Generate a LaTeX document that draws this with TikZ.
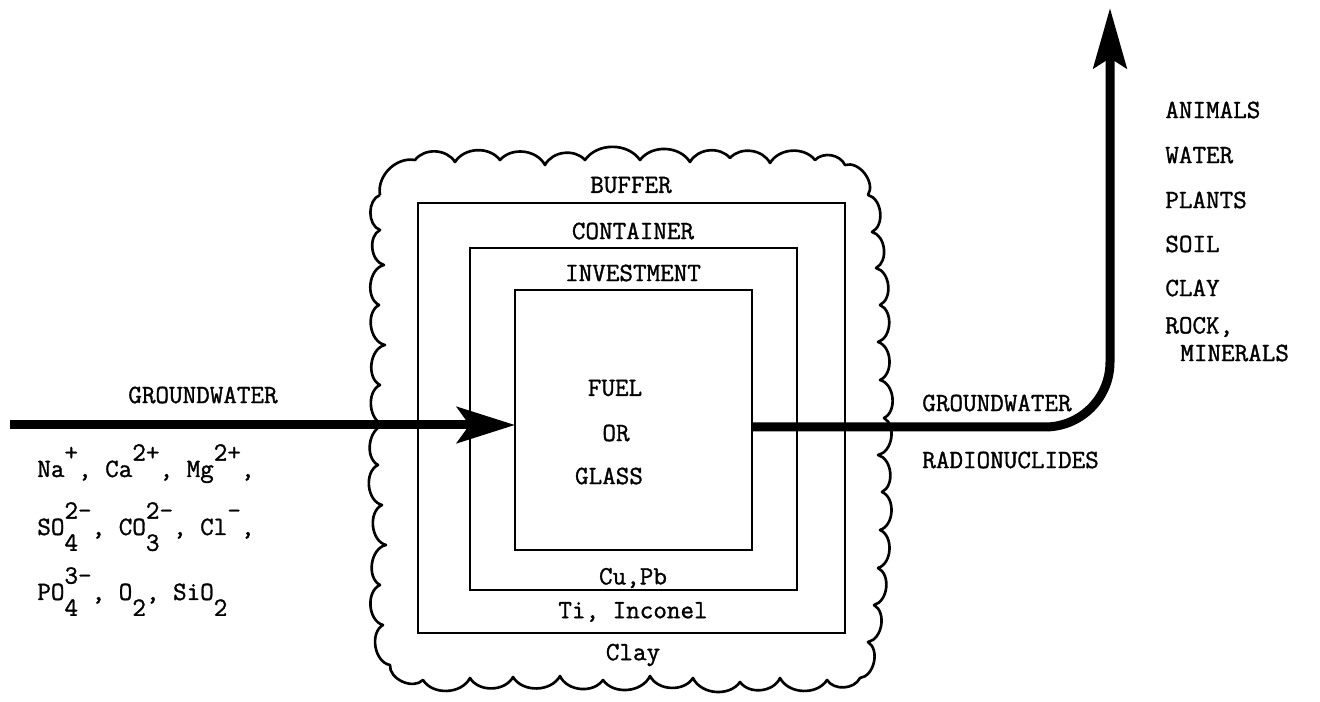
\documentclass[tikz,border=0pt]{standalone}
\usepackage{fontspec}
\usepackage{tikz}
\usetikzlibrary{arrows.meta,positioning}
\newfontfamily\typefont{Latin Modern Mono}[FakeBold=1.2]
\newcommand{\ionsub}[3]{#1\raisebox{-0.6em}{\makebox[0pt][l]{#2}}\raisebox{0.62em}{#3}}

\begin{document}
\begin{tikzpicture}[x=0.02cm, y=-0.02cm,
        lbl/.style={font=\typefont\fontsize{15}{18}\selectfont, inner sep=0pt},
        layer/.style={rectangle, draw, line width=1.6pt, inner sep=0pt, outer sep=0pt},
        flow/.style={line width=0.18cm},
        cloud/.style={line width=1.5pt, line join=round}
    ]
        \useasboundingbox (0,0) rectangle (1320,702);

        % Clay cloud
        \draw[cloud] (380,195)
            to[bend left=55] (415,160) to[bend left=55] (455,162) to[bend left=55] (500,160)
            to[bend left=55] (545,165) to[bend left=55] (585,160) to[bend left=55] (640,160)
            to[bend left=55] (690,162) to[bend left=55] (730,158) to[bend left=55] (770,163)
            to[bend left=55] (815,160) to[bend left=55] (845,165) to[bend left=70] (868,195)
            to[bend left=70] (872,232) to[bend left=70] (876,268) to[bend left=70] (880,305)
            to[bend left=70] (878,342) to[bend left=70] (880,380) to[bend left=70] (884,418)
            to[bend left=70] (878,455) to[bend left=70] (882,492) to[bend left=70] (880,530)
            to[bend left=70] (878,568) to[bend left=70] (874,605) to[bend left=70] (868,642)
            to[bend left=70] (860,678)
            to[bend left=60] (827,680) to[bend left=60] (780,678) to[bend left=60] (740,682)
            to[bend left=60] (693,678) to[bend left=60] (650,676) to[bend left=60] (603,680)
            to[bend left=60] (560,676) to[bend left=60] (513,677) to[bend left=60] (470,678)
            to[bend left=60] (423,680) to[bend left=70] (390,665)
            to[bend left=70] (383,625) to[bend left=70] (380,585) to[bend left=70] (386,545)
            to[bend left=70] (382,505) to[bend left=70] (378,465) to[bend left=70] (384,425)
            to[bend left=70] (380,385) to[bend left=70] (385,345) to[bend left=70] (379,305)
            to[bend left=70] (384,265) to[bend left=70] (380,230) to[bend left=70] (380,195);

        % Layers
        \node[layer, minimum width=8.54cm, minimum height=8.6cm] (buffer) at (631.5,418) {};
        \node[layer, minimum width=6.54cm, minimum height=6.84cm] (container) at (633.5,419) {};
        \node[layer, minimum width=4.74cm, minimum height=5.2cm] (fuel) at (633.5,420) {};

        \node[lbl] (bufferlbl) at (631,185) {BUFFER};
        \node[lbl] (containerlbl) at (633,231) {CONTAINER};
        \node[lbl] (investlbl) at (633,273) {INVESTMENT};
        \node[lbl] (cupb) at (633,578) {Cu,Pb};
        \node[lbl] (tiinc) at (633,612) {Ti, Inconel};
        \node[lbl] (clay) at (633,655) {Clay};

        \node[lbl] (fuellbl) at (615,388) {FUEL};
        \node[lbl] (orlbl) at (616,433) {OR};
        \node[lbl] (glasslbl) at (609,476) {GLASS};

        % Groundwater in
        \coordinate (gwin) at (10,425);
        \draw[flow, -{Stealth[length=1.16cm, width=0.72cm, inset=0.25cm]}] (gwin) -- (gwin -| fuel.west);
        \node[lbl] (gwinlbl) at (203,395) {GROUNDWATER};
        \node[lbl, anchor=base west] (ionsA) at (37,477) {Na\raisebox{0.62em}{+}, Ca\raisebox{0.62em}{2+}, Mg\raisebox{0.62em}{2+},};
        \node[lbl, anchor=base west] (ionsB) at (37,535) {\ionsub{SO}{4}{2-}, \ionsub{CO}{3}{2-}, Cl\raisebox{0.62em}{-},};
        \node[lbl, anchor=base west] (ionsC) at (37,600) {\ionsub{PO}{4}{3-}, O\raisebox{-0.6em}{2}, SiO\raisebox{-0.6em}{2}};

        % Groundwater out
        \coordinate (gwout) at (752,427);
        \coordinate (bend) at (1110,427);
        \coordinate (sink) at (1110,8);
        \draw[flow, rounded corners=1.3cm, -{Stealth[length=1.2cm, width=0.66cm, inset=0.2cm]}] (gwout) -- (bend) -- (sink);
        \node[lbl, anchor=west] (gwoutlbl) at (922,403) {GROUNDWATER};
        \node[lbl, anchor=west] (radio) at (922,460) {RADIONUCLIDES};

        % Sinks
        \node[lbl, anchor=west] (animals) at (1165,110) {ANIMALS};
        \node[lbl, anchor=west] (water) at (1165,155) {WATER};
        \node[lbl, anchor=west] (plants) at (1165,200) {PLANTS};
        \node[lbl, anchor=west] (soil) at (1165,244) {SOIL};
        \node[lbl, anchor=west] (claylbl) at (1165,288) {CLAY};
        \node[lbl, anchor=west] (rock) at (1165,327) {ROCK,};
        \node[lbl, anchor=west] (minerals) at (1180,353) {MINERALS};
    \end{tikzpicture}
\end{document}
